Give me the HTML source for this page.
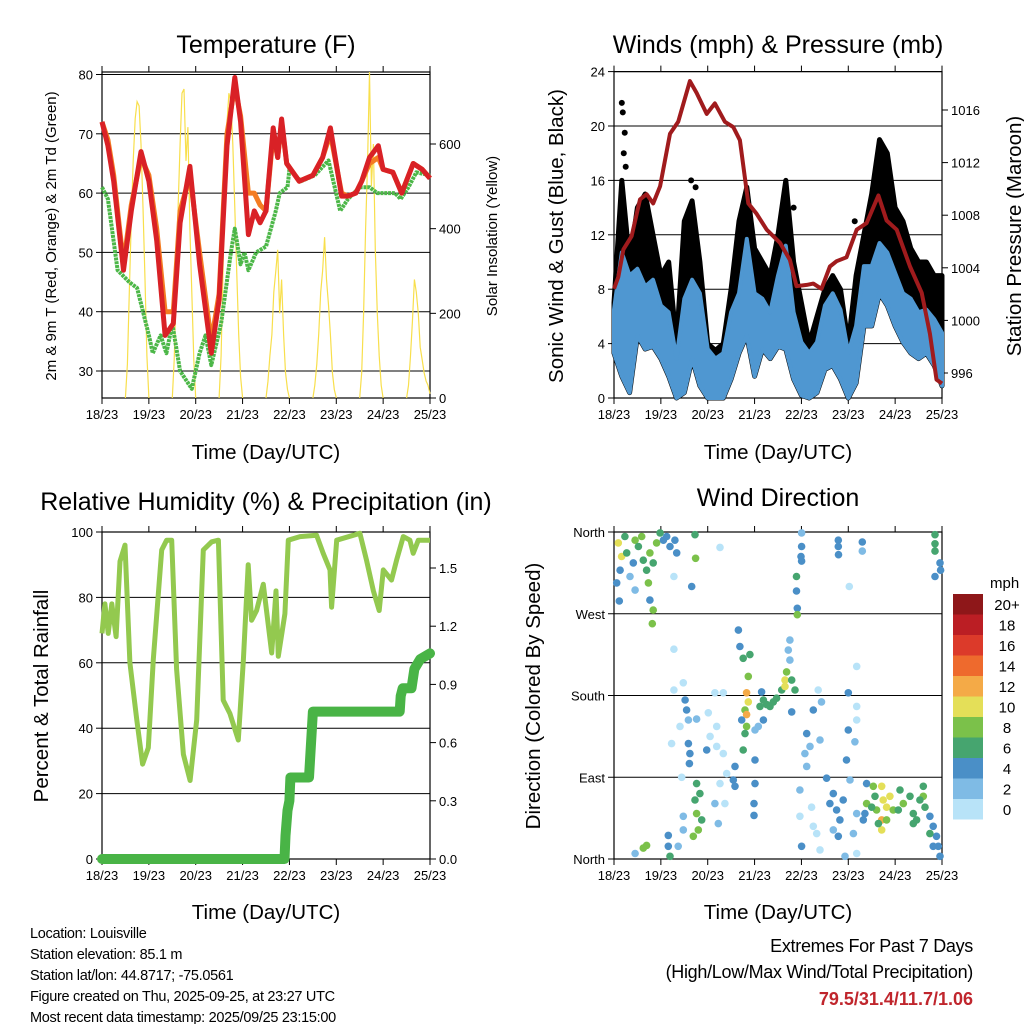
<!DOCTYPE html>
<html><head><meta charset="utf-8"><title>Weather Station</title>
<style>
html,body{margin:0;padding:0;background:#fff;}
svg{display:block;font-family:"Liberation Sans",Arial,sans-serif;}
.t{font-size:25px;text-anchor:middle;fill:#000;}
.ax{font-size:20.5px;text-anchor:middle;fill:#000;}
.tk{font-size:13px;fill:#000;}
.ft{font-size:14.5px;fill:#000;letter-spacing:-0.3px;}
</style></head>
<body>
<svg id="chart" width="1024" height="1024" viewBox="0 0 1024 1024" xmlns="http://www.w3.org/2000/svg">
<rect width="1024" height="1024" fill="#fff"/>
<text class="t" x="266" y="53">Temperature (F)</text>
<text class="t" x="778" y="53">Winds (mph) &amp; Pressure (mb)</text>
<text class="t" x="266" y="510">Relative Humidity (%) &amp; Precipitation (in)</text>
<text class="t" x="778" y="506">Wind Direction</text>
<text class="ax" x="266" y="459">Time (Day/UTC)</text>
<text class="ax" x="778" y="459">Time (Day/UTC)</text>
<text class="ax" x="266" y="919">Time (Day/UTC)</text>
<text class="ax" x="778" y="919">Time (Day/UTC)</text>
<text class="tk" style="font-size:15px" text-anchor="middle" transform="translate(56,236) rotate(-90)">2m &amp; 9m T (Red, Orange) &amp; 2m Td (Green)</text>
<text class="tk" style="font-size:15px" text-anchor="middle" transform="translate(497,236) rotate(-90)">Solar Insolation (Yellow)</text>
<text class="ax" transform="translate(563,236) rotate(-90)">Sonic Wind &amp; Gust (Blue, Black)</text>
<text class="ax" transform="translate(1021,236) rotate(-90)">Station Pressure (Maroon)</text>
<text class="ax" transform="translate(48,696) rotate(-90)">Percent &amp; Total Rainfall</text>
<text class="ax" transform="translate(540,696) rotate(-90)">Direction (Colored By Speed)</text>
<g>
<text class="ft" x="30" y="938">Location: Louisville</text>
<text class="ft" x="30" y="959">Station elevation: 85.1 m</text>
<text class="ft" x="30" y="980">Station lat/lon: 44.8717; -75.0561</text>
<text class="ft" x="30" y="1001">Figure created on Thu, 2025-09-25, at 23:27 UTC</text>
<text class="ft" x="30" y="1022">Most recent data timestamp: 2025/09/25 23:15:00</text>
</g>
<g>
<text x="973" y="952" text-anchor="end" style="font-size:18px;letter-spacing:-0.3px">Extremes For Past 7 Days</text>
<text x="973" y="978" text-anchor="end" style="font-size:18px;letter-spacing:-0.3px">(High/Low/Max Wind/Total Precipitation)</text>
<text x="973" y="1005" text-anchor="end" style="font-size:18px;font-weight:bold;fill:#c0262d">79.5/31.4/11.7/1.06</text>
</g>
</svg>
<script>
// ---------- data ----------
const dayLabels = ["18/23","19/23","20/23","21/23","22/23","23/23","24/23","25/23"];
const tempHours = [0,3,6,11,15,20,24,28,32.3,36.5,40,45,50,56,60,64,68,71,75,78,81,84,87.7,90,92,94.6,101,108,113,117,122.7,126,130,133,137,141.5,144,149,153.5,159.4,164,168];
const temp2m = [72,68,62,47,57,67,62,52,36,38,55,64.5,48,33,42,68,79.5,72,53,57,55,57,71,66,72.5,65,62,63,66,71,59.5,59.5,60,62,66,68,64,63.5,60,65,64,62.5];
const temp9m = [72,69,63,48,58,66,63,54,40,40,57,63,50,35,43,70,78,73,60,60,58,57,70,66,72,65,62,63,66,70,60,59.5,60,62,65,66,64,63.5,60,65,64,62.5];
const dewHours = [0,3,8,14,18,24,26,30,33,36,40,46,50,53,56,61,66,68,71,73,75,79,84,89,91,95,96,102,109,116,122,126,132,137,141,150,153,157,161,168];
const dewPoint = [61,59,47,45,44,36,33,36,33,38,30,27,33,36,31,38,50,54,48,50,47,50,51,57,60,61,64,62,63,65.5,57,59,61,61,60,60,59,61,63.5,63];
const solarStartHours = [12,36,60,84,108,132,156];
const solarDay1 = [0,80,250,420,560,660,700,690,600,450,280,100,0];
const solarDay2 = [0,90,260,450,600,720,730,560,640,400,250,90,0];
const solarDay3 = [0,100,300,500,650,720,700,600,450,300,150,50,0];
const solarDay4 = [0,40,100,150,250,300,350,200,280,150,60,20,0];
const solarDay5 = [0,30,80,150,250,300,380,280,220,150,60,20,0];
const solarDay6 = [0,60,200,400,550,770,500,600,350,200,100,30,0];
const solarDay7 = [0,30,100,180,280,250,200,120,90,60,40,30,10];
const tempTicks = [30,40,50,60,70,80];
const solarTicks = [0,200,400,600];

const windHours = [0,4,8,12,16,20,24,28,32,36,40,44,48,52,56,60,64,68,72,76,80,84,88,92,96,100,104,108,112,116,120,124,128,132,136,140,144,148,152,156,160,164,168];
const windHigh = [6.5,10.7,9,9.5,8.2,8.7,6.8,6.3,2.9,7.3,8.7,7.7,3.6,2.9,3.3,6.3,7.7,11.7,7.7,7.3,6.3,9,11.2,6.3,4.1,3.3,4.1,6.8,7.7,6.5,3.3,5.3,9.7,9.7,11.4,10.7,9.2,7.7,7.3,6.3,6.5,5.8,4.8];
const windLow = [3.3,1.6,0.4,4.6,3.6,3.8,2.9,1.6,0,0.4,2.9,0.9,0,0,0,1.4,3.3,4.6,1.6,3.6,2.9,3.8,3.6,1.4,0.2,0,0.4,2.1,2.4,1.4,0,1.1,5.3,5.3,7.7,6.8,5.3,4.1,3.3,2.9,3.3,2.4,0.9];
const gustHigh = [7,16,10,14,15,12,9,10,4,13,14.5,10,4,3.5,4,8,13,15.5,11,10,9,12,16,10,7,4,6,8,9,8,4,9,12,15,19,18,14,13,11,10,10,9,9];
const gustOutlierHours = [4,4.5,5,5.5,6,41.8,39.5,92,123.3,137,139,138];
const gustOutlierVals = [21.7,21,18,19.5,17,15.5,16,14,13,17.5,16.5,16.8];
const presHours = [0,2.2,4.8,9,13.3,16.7,20.1,23.6,28.7,32.9,38.9,42.3,47.5,51.7,56.8,61.1,64.5,68.8,73.1,78.2,85,90.1,93.5,98.7,102.1,106.3,110.6,114,119.1,124.3,129.4,135.4,139.6,144.8,151.6,157.6,161.8,165.2,168];
const pressure = [1002.4,1003.3,1005.4,1006.4,1009.2,1009.6,1008.9,1010.2,1014.2,1015.1,1018.2,1017.3,1015.7,1016.5,1015.1,1014.7,1013.7,1008.9,1008.1,1006.9,1005.9,1004.6,1002.6,1002.7,1002.8,1002.4,1004.1,1004.5,1004.8,1006.9,1007.4,1009.5,1007.6,1006.9,1004.1,1002.1,999.0,995.5,995.2];
const windTicks = [0,4,8,12,16,20,24];
const presTicks = [996,1000,1004,1008,1012,1016];

const rhHours = [0,1.5,3.2,5,7.2,9.2,11.8,14.3,17.8,20.8,23.7,26.3,30.6,33.1,35.7,38.2,41.7,45.1,48.5,51.9,56.2,59.6,62.1,65.5,69.8,72.4,74.9,76.6,79.2,82.6,86.9,89.1,90.3,93.7,95.4,101.4,109.9,113.3,116.8,117.6,120.2,132.1,135.5,139,142,144.1,148.3,150.9,154.3,157.7,159.4,162,168];
const rhVals = [69,78,69,78,68,91,96,60,42.5,29,34,61,94.5,97.5,97.5,58,32,24,42.5,94.5,97,97.5,48.6,44.5,36.4,61,90,73,76,84,63,82,62,75,97.5,98.6,99,93.5,88.4,77,97.5,99.6,91.4,82,76,88.4,85.3,91.4,98.6,97.5,93.5,97.5,97.5];
const rainHours = [0,93.5,94,95,96,96.5,106,108,152.5,153,154,158.5,160,163,168];
const rainTotal = [0,0,0.12,0.25,0.3,0.42,0.42,0.76,0.76,0.84,0.88,0.88,0.98,1.03,1.06];
const rhTicks = [0,20,40,60,80,100];
const rainTicks = [0,0.3,0.6,0.9,1.2,1.5];
const rainTickLabels = ["0.0","0.3","0.6","0.9","1.2","1.5"];

const dirTicks = [0,90,180,270,360];
const dirTickLabels = ["North","East","South","West","North"];
const wdHours = [2.2,3.9,3.1,5.6,6.5,1.4,8.2,9.9,10.8,12.5,14.2,15,16.7,18.4,17.6,20.1,21.8,23.6,25.3,27,28.7,31.2,32.1,18.4,20.1,19.6,10.8,2.7,41.5,41.8,30.7,39.8,54.3,96.1,96.1,95.8,96.1,93.5,93.5,93.9,93.9,114.9,114.9,115,127.2,127.2,120.5,164.4,164.4,164.4,167,167.3,164.4,
30.7,30.7,35.5,36.4,37.2,38.1,33.8,29.5,38.1,38.9,38.6,42.3,34.7,44,41.5,42.3,43.2,40.6,44.9,42.3,35.5,35.5,32.9,27.8,27.8,28.7,15,16.7,10.8,47.5,48.3,51.7,52.6,49.2,52.6,56,57.7,54.3,51.7,53.4,56.8,62,62,61.1,56,
63.7,64.5,66.2,69.6,68.8,67.9,68.8,67.1,67.9,67.9,67.1,65.4,66.2,72.2,72.2,72.2,71.7,71.7,74.8,76.5,78.2,79.9,81.6,83.3,85.9,87.6,87.6,88.4,91,92.7,90.1,90.1,89.3,91,76.5,75.6,73.9,
95.2,95.2,96.1,98.7,97.8,98.7,100.4,102.1,105.5,101.2,102.1,103.8,105.5,104.6,106.3,108.9,110.6,112.3,114,115.7,117.4,114.9,112.3,120,120,119.1,124.3,124.3,124.3,123.4,120.9,124.3,122.6,127.7,129.4,124.3,118.3,
129.4,132.8,134.5,137.1,137.9,139.6,137.1,137.1,141.3,143,146.5,148.2,151.6,153.3,155,158.4,158.4,159.3,161.8,163.5,165.2,166.1,167,163.5,161.8,153.3,156.7,145.6,139.6,133.7,132,135.4,128.5];
const wdDirs = [348,333,318,355,337,304,311,326,351,344,355,329,318,337,304,326,348,359,351,355,344,351,337,285,274,259,296,284,357,331,311,300,343,359,344,333,328,311,295,276,269,351,344,335,349,339,300,357,347,339,326,318,311,
231,186,194,175,164,153,146,127,127,116,105,154,90,72,65,50,32,25,43,83,47,32,14,26,14,3,12,15,6,120,161,183,146,135,124,116,94,83,61,39,61,102,80,87,183,
252,234,221,225,201,183,173,164,159,146,138,153,120,142,109,83,61,48,168,175,170,168,173,177,186,197,190,206,197,186,241,219,230,162,153,184,146,
76,47,14,138,116,102,124,164,131,57,36,28,10,186,173,89,61,72,54,43,65,25,32,183,142,109,212,168,153,129,87,50,28,43,83,6,3,
61,80,54,80,65,57,43,32,69,54,76,61,69,50,43,80,69,57,47,36,25,14,3,14,28,39,65,54,43,69,57,39,50];
const wdSpeeds = [11,11,5,7,7,5,3,5,9,7,9,7,7,9,9,7,9,7,5,5,5,5,5,5,9,9,3,5,7,9,1,5,1,3,5,5,5,7,5,5,9,5,5,5,5,3,1,7,7,7,5,5,5,
1,1,1,5,5,3,1,1,5,5,5,3,1,7,7,9,9,9,7,7,3,3,3,5,5,7,9,9,3,5,1,1,1,1,1,1,1,1,3,3,1,5,5,5,1,
5,5,7,7,9,13,11,9,13,9,7,5,7,3,5,5,5,5,7,7,7,7,7,7,7,11,11,9,7,7,3,3,3,5,5,5,3,
3,1,5,5,3,3,3,5,3,1,1,1,1,1,3,5,5,5,5,5,5,5,3,5,5,5,1,1,1,3,3,3,3,5,5,1,3,
9,9,9,11,11,11,13,11,11,9,7,9,7,7,7,7,9,7,5,5,5,5,5,5,7,7,7,7,9,7,7,7,5];
const speedLabels = ["0","2","4","6","8","10","12","14","16","18","20+"];
const speedColors = ["#b8e3f8","#7fbbe5","#4a8fc7","#46a56f","#7bc14a","#e4df58","#f4aa47","#ee6a2d","#dc3a2a","#bb1e24","#8e1719"];

// ---------- helpers ----------
const NS = "http://www.w3.org/2000/svg";
const svg = document.getElementById("chart");
function mk(tag, attrs, parent) {
  const n = document.createElementNS(NS, tag);
  for (const k in attrs) n.setAttribute(k, attrs[k]);
  (parent || svg).appendChild(n);
  return n;
}
function group(name) {
  const g = mk("g", {});
  
  
  return g;
}
function linScale(d0, d1, r0, r1) { return v => r0 + (v - d0) / (d1 - d0) * (r1 - r0); }
function pathFrom(xs, ys, fx, fy) { return xs.map((h, i) => (i ? "L" : "M") + fx(h).toFixed(1) + "," + fy(ys[i]).toFixed(1)).join(""); }

const L = 102, R = 430, L2 = 614, R2 = 942;
const xTL = linScale(0, 168, L, R), xTR = linScale(0, 168, L2, R2);

function frame(name, x0, x1, y0, y1, grid, fy, rightTicks, fyR, leftTicks, leftLabels, rightLabels) {
  const g = group(name);
  grid.forEach(v => mk("line", {x1: x0, x2: x1, y1: fy(v), y2: fy(v), stroke: "#000", "stroke-width": 1}, g));
  mk("rect", {x: x0, y: y0, width: x1 - x0, height: y1 - y0, fill: "none", stroke: "#000", "stroke-width": 1.2}, g);
  const fx = linScale(0, 168, x0, x1);
  dayLabels.forEach((lab, i) => {
    const x = fx(i * 24);
    mk("line", {x1: x, x2: x, y1: y1, y2: y1 + 6, stroke: "#000"}, g);
    mk("line", {x1: x, x2: x, y1: y0 - 6, y2: y0, stroke: "#000"}, g);
    const t = mk("text", {x: x, y: y1 + 21, "text-anchor": "middle", class: "tk"}, g);
    t.textContent = lab;
    
    
  });
  leftTicks.forEach((v, i) => {
    const y = fy(v);
    mk("line", {x1: x0 - 6, x2: x0, y1: y, y2: y, stroke: "#000"}, g);
    const t = mk("text", {x: x0 - 9, y: y + 5, "text-anchor": "end", class: "tk"}, g);
    t.textContent = leftLabels ? leftLabels[i] : String(v);
    
    
  });
  if (rightTicks) rightTicks.forEach((v, i) => {
    const y = fyR(v);
    mk("line", {x1: x1, x2: x1 + 6, y1: y, y2: y, stroke: "#000"}, g);
    const t = mk("text", {x: x1 + 9, y: y + 5, "text-anchor": "start", class: "tk"}, g);
    t.textContent = rightLabels ? rightLabels[i] : String(v);
    
    
  });
}

// ---------- Temperature panel ----------
const yTemp = linScale(30, 80, 371, 74.5);
const ySolar = linScale(0, 600, 398, 144);
frame("temperature-axes", L, R, 72, 398, tempTicks, yTemp, solarTicks, ySolar, tempTicks);
const gSol = group("solar-series");
[solarDay1, solarDay2, solarDay3, solarDay4, solarDay5, solarDay6, solarDay7].forEach((arr, d) => {
  const hrs = arr.map((v, i) => solarStartHours[d] + i);
  const p = mk("path", {d: pathFrom(hrs, arr, xTL, ySolar), fill: "none", stroke: "#f8df4c", "stroke-width": 1.2}, gSol);
  
  
});
const pDew = mk("path", {d: pathFrom(dewHours, dewPoint, xTL, yTemp), fill: "none", stroke: "#4cb748", "stroke-width": 4, "stroke-dasharray": "3 0.8", "stroke-linejoin": "round"});


const p9 = mk("path", {d: pathFrom(tempHours, temp9m, xTL, yTemp), fill: "none", stroke: "#f47c22", "stroke-width": 5, "stroke-linejoin": "round"});


const p2 = mk("path", {d: pathFrom(tempHours, temp2m, xTL, yTemp), fill: "none", stroke: "#d92126", "stroke-width": 5, "stroke-linejoin": "round"});



// ---------- Wind panel ----------
const yWind = linScale(0, 24, 398, 71.6);
const yPres = linScale(996, 1016, 373, 110);
frame("wind-axes", L2, R2, 71.6, 398, windTicks, yWind, presTicks, yPres, windTicks);
function band(hours, lo, hi, fx, fy) {
  const top = hours.map((h, i) => fx(h).toFixed(1) + "," + fy(hi[i]).toFixed(1));
  const bot = hours.map((h, i) => fx(h).toFixed(1) + "," + fy(lo[i]).toFixed(1)).reverse();
  return "M" + top.join("L") + "L" + bot.join("L") + "Z";
}
const gust = mk("path", {d: band(windHours, windLow, gustHigh, xTR, yWind), fill: "#000", stroke: "#000", "stroke-width": 5, "stroke-linejoin": "round"});


gustOutlierHours.forEach((h, i) => {
  const c = mk("circle", {cx: xTR(h), cy: yWind(gustOutlierVals[i]), r: 3, fill: "#000"});
  
  
});
const wnd = mk("path", {d: band(windHours, windLow, windHigh, xTR, yWind), fill: "#4f97d1", stroke: "#4f97d1", "stroke-width": 4, "stroke-linejoin": "round"});


const pres = mk("path", {d: pathFrom(presHours, pressure, xTR, yPres), fill: "none", stroke: "#a01b1d", "stroke-width": 4, "stroke-linejoin": "round"});



// ---------- Humidity panel ----------
const yRH = linScale(0, 100, 859, 532);
const yRain = linScale(0, 1.5, 859, 568);
frame("humidity-axes", L, R, 532, 859, rhTicks, yRH, rainTicks, yRain, rhTicks, null, rainTickLabels);
const rh = mk("path", {d: pathFrom(rhHours, rhVals, xTL, yRH), fill: "none", stroke: "#93c94f", "stroke-width": 5, "stroke-linejoin": "round"});


const rain = mk("path", {d: pathFrom(rainHours, rainTotal, xTL, yRain), fill: "none", stroke: "#49b446", "stroke-width": 10, "stroke-linejoin": "round", "stroke-linecap": "round"});



// ---------- Wind direction panel ----------
const yDir = linScale(0, 360, 859, 532);
frame("direction-axes", L2, R2, 532, 859, dirTicks, yDir, null, null, dirTicks, dirTickLabels);
const gDir = group("direction-points");
function speedColor(s) { return speedColors[Math.max(0, Math.min(10, Math.floor(s / 2)))]; }
wdHours.forEach((h, i) => {
  const c = mk("circle", {cx: xTR(h).toFixed(1), cy: yDir(wdDirs[i]).toFixed(1), r: 3.8, fill: speedColor(wdSpeeds[i])}, gDir);
  
  
});
// colorbar legend
const gLeg = group("speed-legend");
const mphT = mk("text", {x: 990, y: 588, class: "tk"}, gLeg);
mphT.setAttribute("style", "font-size:15px");
mphT.textContent = "mph";
speedLabels.forEach((lab, i) => {
  const y = 799 - i * 20.5;
  const r = mk("rect", {x: 953, y: y, width: 30, height: 20.5, fill: speedColors[i]}, gLeg);
  
  
  const t = mk("text", {x: 1007, y: y + 16, "text-anchor": "middle", class: "tk"}, gLeg);
  t.setAttribute("style", "font-size:15px");
  t.textContent = lab;
  
  
});
</script>
</body></html>
